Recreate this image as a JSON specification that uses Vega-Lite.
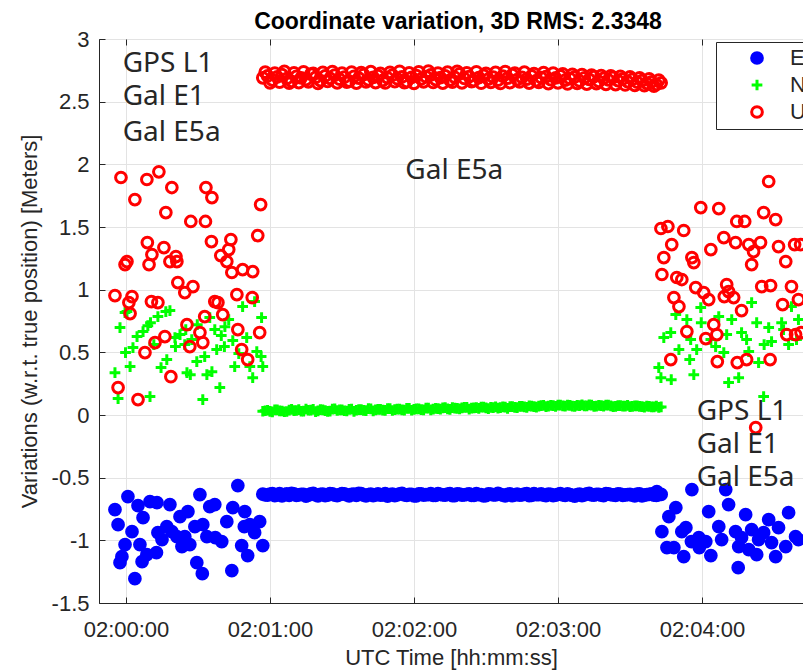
{
"$schema": "https://vega.github.io/schema/vega-lite/v6.json",
"width": 704, "height": 564,
"autosize": "none",
"padding": {"left": 99, "top": 39, "right": 0, "bottom": 69},
"background": "white",
"title": {"text": "Coordinate variation, 3D RMS: 2.3348", "font": "Liberation Sans", "fontSize": 23, "fontWeight": "bold", "color": "#000000", "offset": -6, "anchor": "middle", "dx": 7},
"config": {
  "view": {"stroke": "#262626", "strokeWidth": 1},
  "legend": {"orient": "none", "legendX": 617, "legendY": 3, "padding": 5, "rowPadding": 3, "symbolSize": 115, "symbolStrokeWidth": 3, "labelFontSize": 22, "labelFont": "Liberation Sans", "labelColor": "#262626", "labelOffset": 22, "symbolOffset": 25, "strokeColor": "#262626", "fillColor": "white", "cornerRadius": 0}
},
"resolve": {"axis": {"x": "independent"}},
"layer": [
{
  "data": {"values": [
{"t":7257000,"East":-0.632,"North":0.030,"Up":2.690},{"t":7259000,"East":-0.640,"North":0.038,"Up":2.705},{"t":7261000,"East":-0.628,"North":0.025,"Up":2.672},{"t":7263000,"East":-0.637,"North":0.041,"Up":2.698},
{"t":7265000,"East":-0.645,"North":0.032,"Up":2.715},{"t":7267000,"East":-0.630,"North":0.028,"Up":2.684},{"t":7269000,"East":-0.626,"North":0.044,"Up":2.662},{"t":7271000,"East":-0.641,"North":0.036,"Up":2.701},
{"t":7273000,"East":-0.634,"North":0.030,"Up":2.690},{"t":7275000,"East":-0.648,"North":0.047,"Up":2.676},{"t":7277000,"East":-0.629,"North":0.039,"Up":2.720},{"t":7279000,"East":-0.638,"North":0.027,"Up":2.693},
{"t":7281000,"East":-0.633,"North":0.043,"Up":2.668},{"t":7283000,"East":-0.644,"North":0.035,"Up":2.705},{"t":7285000,"East":-0.627,"North":0.031,"Up":2.686},{"t":7287000,"East":-0.639,"North":0.048,"Up":2.712},
{"t":7289000,"East":-0.636,"North":0.040,"Up":2.679},{"t":7291000,"East":-0.630,"North":0.034,"Up":2.695},{"t":7293000,"East":-0.646,"North":0.045,"Up":2.664},{"t":7295000,"East":-0.632,"North":0.029,"Up":2.702},
{"t":7297000,"East":-0.625,"North":0.042,"Up":2.688},{"t":7299000,"East":-0.640,"North":0.037,"Up":2.716},{"t":7301000,"East":-0.635,"North":0.050,"Up":2.674},{"t":7303000,"East":-0.643,"North":0.033,"Up":2.693},
{"t":7305000,"East":-0.629,"North":0.044,"Up":2.707},{"t":7307000,"East":-0.637,"North":0.039,"Up":2.669},{"t":7309000,"East":-0.648,"North":0.051,"Up":2.690},{"t":7311000,"East":-0.631,"North":0.036,"Up":2.711},
{"t":7313000,"East":-0.638,"North":0.046,"Up":2.683},{"t":7315000,"East":-0.626,"North":0.041,"Up":2.697},{"t":7317000,"East":-0.641,"North":0.053,"Up":2.660},{"t":7319000,"East":-0.634,"North":0.038,"Up":2.694},
{"t":7321000,"East":-0.645,"North":0.049,"Up":2.708},{"t":7323000,"East":-0.630,"North":0.043,"Up":2.681},{"t":7325000,"East":-0.636,"North":0.055,"Up":2.699},{"t":7327000,"East":-0.628,"North":0.040,"Up":2.713},
{"t":7329000,"East":-0.642,"North":0.052,"Up":2.676},{"t":7331000,"East":-0.633,"North":0.046,"Up":2.691},{"t":7333000,"East":-0.639,"North":0.058,"Up":2.705},{"t":7335000,"East":-0.627,"North":0.044,"Up":2.672},
{"t":7337000,"East":-0.644,"North":0.054,"Up":2.694},{"t":7339000,"East":-0.632,"North":0.049,"Up":2.722},{"t":7341000,"East":-0.638,"North":0.060,"Up":2.685},{"t":7343000,"East":-0.629,"North":0.047,"Up":2.700},
{"t":7345000,"East":-0.641,"North":0.057,"Up":2.667},{"t":7347000,"East":-0.635,"North":0.052,"Up":2.692},{"t":7349000,"East":-0.646,"North":0.062,"Up":2.709},{"t":7351000,"East":-0.630,"North":0.050,"Up":2.680},
{"t":7353000,"East":-0.637,"North":0.059,"Up":2.696},{"t":7355000,"East":-0.625,"North":0.055,"Up":2.671},{"t":7357000,"East":-0.640,"North":0.064,"Up":2.703},{"t":7359000,"East":-0.634,"North":0.053,"Up":2.688},
{"t":7361000,"East":-0.643,"North":0.066,"Up":2.715},{"t":7363000,"East":-0.631,"North":0.058,"Up":2.676},{"t":7365000,"East":-0.638,"North":0.068,"Up":2.694},{"t":7367000,"East":-0.627,"North":0.060,"Up":2.680},
{"t":7369000,"East":-0.642,"North":0.071,"Up":2.705},{"t":7371000,"East":-0.636,"North":0.062,"Up":2.668},{"t":7373000,"East":-0.630,"North":0.074,"Up":2.692},{"t":7375000,"East":-0.644,"North":0.066,"Up":2.700},
{"t":7377000,"East":-0.633,"North":0.076,"Up":2.675},{"t":7379000,"East":-0.639,"North":0.069,"Up":2.689},{"t":7381000,"East":-0.628,"North":0.079,"Up":2.706},{"t":7383000,"East":-0.641,"North":0.070,"Up":2.671},
{"t":7385000,"East":-0.635,"North":0.077,"Up":2.684},{"t":7387000,"East":-0.647,"North":0.068,"Up":2.698},{"t":7389000,"East":-0.631,"North":0.075,"Up":2.665},{"t":7391000,"East":-0.637,"North":0.072,"Up":2.690},
{"t":7393000,"East":-0.626,"North":0.080,"Up":2.678},{"t":7395000,"East":-0.640,"North":0.069,"Up":2.699},{"t":7397000,"East":-0.634,"North":0.076,"Up":2.662},{"t":7399000,"East":-0.643,"North":0.071,"Up":2.686},
{"t":7401000,"East":-0.630,"North":0.078,"Up":2.673},{"t":7403000,"East":-0.638,"North":0.067,"Up":2.694},{"t":7405000,"East":-0.629,"North":0.074,"Up":2.668},{"t":7407000,"East":-0.642,"North":0.070,"Up":2.681},
{"t":7409000,"East":-0.635,"North":0.076,"Up":2.660},{"t":7411000,"East":-0.640,"North":0.068,"Up":2.677},{"t":7413000,"East":-0.632,"North":0.073,"Up":2.655},{"t":7415000,"East":-0.645,"North":0.066,"Up":2.668},
{"t":7417000,"East":-0.636,"North":0.071,"Up":2.646},{"t":7419000,"East":-0.629,"North":0.065,"Up":2.658},{"t":7421000,"East":-0.641,"North":0.070,"Up":2.637},{"t":7423000,"East":-0.634,"North":0.064,"Up":2.650},
{"t":7258000,"East":-0.638,"North":0.034,"Up":2.735},{"t":7260000,"East":-0.631,"North":0.029,"Up":2.650},{"t":7262000,"East":-0.644,"North":0.040,"Up":2.728},{"t":7264000,"East":-0.627,"North":0.033,"Up":2.655},
{"t":7266000,"East":-0.636,"North":0.026,"Up":2.741},{"t":7268000,"East":-0.642,"North":0.039,"Up":2.647},{"t":7270000,"East":-0.629,"North":0.035,"Up":2.730},{"t":7272000,"East":-0.637,"North":0.042,"Up":2.652},
{"t":7274000,"East":-0.633,"North":0.031,"Up":2.738},{"t":7276000,"East":-0.640,"North":0.038,"Up":2.658},{"t":7278000,"East":-0.626,"North":0.044,"Up":2.725},{"t":7280000,"East":-0.645,"North":0.033,"Up":2.645},
{"t":7282000,"East":-0.632,"North":0.040,"Up":2.733},{"t":7284000,"East":-0.639,"North":0.029,"Up":2.661},{"t":7286000,"East":-0.630,"North":0.046,"Up":2.740},{"t":7288000,"East":-0.643,"North":0.036,"Up":2.650},
{"t":7290000,"East":-0.628,"North":0.041,"Up":2.727},{"t":7292000,"East":-0.638,"North":0.032,"Up":2.655},{"t":7294000,"East":-0.634,"North":0.047,"Up":2.736},{"t":7296000,"East":-0.641,"North":0.038,"Up":2.648},
{"t":7298000,"East":-0.627,"North":0.043,"Up":2.731},{"t":7300000,"East":-0.645,"North":0.035,"Up":2.657},{"t":7302000,"East":-0.631,"North":0.048,"Up":2.739},{"t":7304000,"East":-0.637,"North":0.040,"Up":2.652},
{"t":7306000,"East":-0.640,"North":0.045,"Up":2.726},{"t":7308000,"East":-0.628,"North":0.037,"Up":2.649},{"t":7310000,"East":-0.636,"North":0.050,"Up":2.734},{"t":7312000,"East":-0.643,"North":0.042,"Up":2.660},
{"t":7314000,"East":-0.630,"North":0.047,"Up":2.742},{"t":7316000,"East":-0.638,"North":0.039,"Up":2.651},{"t":7318000,"East":-0.633,"North":0.052,"Up":2.729},{"t":7320000,"East":-0.646,"North":0.044,"Up":2.646},
{"t":7322000,"East":-0.629,"North":0.049,"Up":2.737},{"t":7324000,"East":-0.639,"North":0.041,"Up":2.658},{"t":7326000,"East":-0.635,"North":0.055,"Up":2.744},{"t":7328000,"East":-0.642,"North":0.046,"Up":2.653},
{"t":7330000,"East":-0.627,"North":0.051,"Up":2.728},{"t":7332000,"East":-0.637,"North":0.056,"Up":2.648},{"t":7334000,"East":-0.632,"North":0.049,"Up":2.735},{"t":7336000,"East":-0.644,"North":0.058,"Up":2.655},
{"t":7338000,"East":-0.630,"North":0.052,"Up":2.741},{"t":7340000,"East":-0.639,"North":0.057,"Up":2.650},{"t":7342000,"East":-0.634,"North":0.061,"Up":2.730},{"t":7344000,"East":-0.641,"North":0.054,"Up":2.659},
{"t":7346000,"East":-0.628,"North":0.059,"Up":2.738},{"t":7348000,"East":-0.636,"North":0.063,"Up":2.647},{"t":7350000,"East":-0.643,"North":0.056,"Up":2.726},{"t":7352000,"East":-0.631,"North":0.061,"Up":2.654},
{"t":7354000,"East":-0.638,"North":0.065,"Up":2.733},{"t":7356000,"East":-0.633,"North":0.058,"Up":2.645},{"t":7358000,"East":-0.645,"North":0.063,"Up":2.740},{"t":7360000,"East":-0.629,"North":0.067,"Up":2.652},
{"t":7362000,"East":-0.637,"North":0.061,"Up":2.728},{"t":7364000,"East":-0.640,"North":0.069,"Up":2.657},{"t":7366000,"East":-0.632,"North":0.064,"Up":2.735},{"t":7368000,"East":-0.644,"North":0.072,"Up":2.648},
{"t":7370000,"East":-0.628,"North":0.066,"Up":2.724},{"t":7372000,"East":-0.636,"North":0.071,"Up":2.653},{"t":7374000,"East":-0.639,"North":0.077,"Up":2.731},{"t":7376000,"East":-0.631,"North":0.070,"Up":2.644},
{"t":7378000,"East":-0.643,"North":0.074,"Up":2.727},{"t":7380000,"East":-0.634,"North":0.078,"Up":2.650},{"t":7382000,"East":-0.638,"North":0.073,"Up":2.722},{"t":7384000,"East":-0.629,"North":0.079,"Up":2.641},
{"t":7386000,"East":-0.641,"North":0.071,"Up":2.718},{"t":7388000,"East":-0.635,"North":0.076,"Up":2.646},{"t":7390000,"East":-0.644,"North":0.081,"Up":2.715},{"t":7392000,"East":-0.630,"North":0.073,"Up":2.640},
{"t":7394000,"East":-0.637,"North":0.078,"Up":2.712},{"t":7396000,"East":-0.633,"North":0.070,"Up":2.644},{"t":7398000,"East":-0.640,"North":0.075,"Up":2.708},{"t":7400000,"East":-0.628,"North":0.079,"Up":2.638},
{"t":7402000,"East":-0.636,"North":0.072,"Up":2.705},{"t":7404000,"East":-0.642,"North":0.068,"Up":2.636},{"t":7406000,"East":-0.631,"North":0.075,"Up":2.702},{"t":7408000,"East":-0.638,"North":0.070,"Up":2.633},
{"t":7410000,"East":-0.634,"North":0.066,"Up":2.697},{"t":7412000,"East":-0.645,"North":0.072,"Up":2.630},{"t":7414000,"East":-0.630,"North":0.068,"Up":2.690},{"t":7416000,"East":-0.639,"North":0.063,"Up":2.627},
{"t":7418000,"East":-0.633,"North":0.069,"Up":2.682},{"t":7420000,"East":-0.640,"North":0.065,"Up":2.624},{"t":7422000,"East":-0.636,"North":0.061,"Up":2.672}
  ]},
  "transform": [{"fold": ["East", "North", "Up"], "as": ["s", "v"]}],
  "mark": {"type": "point", "strokeWidth": 3, "size": 115, "opacity": 1},
  "encoding": {
    "x": {"field": "t", "type": "temporal", "scale": {"type": "utc", "domain": [7188750, 7482100]},
      "axis": {"values": [7200000, 7260000, 7320000, 7380000, 7440000], "labelExpr": "utcFormat(datum.value, '%H:%M:%S')", "labelFont": "Liberation Sans", "labelFontSize": 22, "labelColor": "#262626", "labelPadding": 22, "tickSize": -6, "tickColor": "#262626", "domainColor": "#262626", "grid": true, "gridColor": "#e3e3e3", "labelFlush": false, "labelOverlap": false, "title": "UTC Time [hh:mm:ss]", "titleFont": "Liberation Sans", "titleFontSize": 22, "titleFontWeight": "normal", "titleColor": "#262626", "titlePadding": 7}},
    "y": {"field": "v", "type": "quantitative", "scale": {"domain": [-1.5, 3], "nice": false, "zero": false},
      "axis": {"values": [-1.5, -1, -0.5, 0, 0.5, 1, 1.5, 2, 2.5, 3], "labelExpr": "'' + datum.value", "labelFont": "Liberation Sans", "labelFontSize": 22, "labelColor": "#262626", "labelPadding": 16, "tickSize": -6, "tickColor": "#262626", "domainColor": "#262626", "grid": true, "gridColor": "#e3e3e3", "labelFlush": false, "labelOverlap": false, "title": "Variations (w.r.t. true position) [Meters]", "titleFont": "Liberation Sans", "titleFontSize": 22, "titleFontWeight": "normal", "titleColor": "#262626", "titlePadding": 10}},
    "stroke": {"field": "s", "type": "nominal", "title": null, "scale": {"domain": ["East", "North", "Up"], "range": ["#0000ff", "#00ff00", "#ff0000"]}},
    "fill": {"field": "s", "type": "nominal", "title": null, "scale": {"domain": ["East", "North", "Up"], "range": ["#0000ff", "transparent", "transparent"]}},
    "shape": {"field": "s", "type": "nominal", "title": null, "scale": {"domain": ["East", "North", "Up"], "range": ["circle", "M-1,0H1M0,-1V1", "circle"]}}
  }
},
{
  "data": {"values": [
{"t":7200800,"s":"East","v":-0.651},{"t":7210000,"s":"East","v":-0.691},{"t":7212900,"s":"East","v":-0.699},{"t":7205000,"s":"East","v":-0.723},{"t":7195400,"s":"East","v":-0.755},{"t":7218300,"s":"East","v":-0.715},{"t":7230800,"s":"East","v":-0.635},{"t":7246600,"s":"East","v":-0.563},{"t":7234900,"s":"East","v":-0.731},{"t":7237000,"s":"East","v":-0.715},{"t":7244500,"s":"East","v":-0.739},{"t":7249500,"s":"East","v":-0.771},
{"t":7196700,"s":"East","v":-0.875},{"t":7207100,"s":"East","v":-0.819},{"t":7225800,"s":"East","v":-0.771},{"t":7222500,"s":"East","v":-0.811},{"t":7202500,"s":"East","v":-0.931},{"t":7213300,"s":"East","v":-0.939},{"t":7217000,"s":"East","v":-0.891},{"t":7219100,"s":"East","v":-0.931},{"t":7228700,"s":"East","v":-0.891},{"t":7232000,"s":"East","v":-0.875},{"t":7242000,"s":"East","v":-0.851},{"t":7249300,"s":"East","v":-0.891},
{"t":7251600,"s":"East","v":-0.875},{"t":7255700,"s":"East","v":-0.851},{"t":7253600,"s":"East","v":-0.939},{"t":7215000,"s":"East","v":-0.994},{"t":7221200,"s":"East","v":-0.971},{"t":7224500,"s":"East","v":-0.971},{"t":7233700,"s":"East","v":-0.971},{"t":7237200,"s":"East","v":-0.979},{"t":7239900,"s":"East","v":-1.010},{"t":7226600,"s":"East","v":-1.034},{"t":7223300,"s":"East","v":-1.050},{"t":7199600,"s":"East","v":-1.034},
{"t":7205800,"s":"East","v":-1.034},{"t":7248200,"s":"East","v":-1.042},{"t":7257000,"s":"East","v":-1.042},{"t":7212700,"s":"East","v":-1.098},{"t":7208700,"s":"East","v":-1.114},{"t":7198300,"s":"East","v":-1.130},{"t":7197500,"s":"East","v":-1.178},{"t":7206700,"s":"East","v":-1.170},{"t":7229500,"s":"East","v":-1.178},{"t":7250700,"s":"East","v":-1.122},{"t":7244100,"s":"East","v":-1.242},{"t":7231800,"s":"East","v":-1.266},{"t":7203700,"s":"East","v":-1.306},
{"t":7421200,"s":"East","v":-0.611},{"t":7435800,"s":"East","v":-0.595},{"t":7449900,"s":"East","v":-0.595},{"t":7429100,"s":"East","v":-0.739},{"t":7442800,"s":"East","v":-0.771},{"t":7451100,"s":"East","v":-0.715},{"t":7458200,"s":"East","v":-0.795},{"t":7467800,"s":"East","v":-0.835},{"t":7476100,"s":"East","v":-0.779},{"t":7426200,"s":"East","v":-0.811},{"t":7423300,"s":"East","v":-0.931},{"t":7433300,"s":"East","v":-0.899},
{"t":7431600,"s":"East","v":-0.931},{"t":7438700,"s":"East","v":-0.979},{"t":7447000,"s":"East","v":-0.891},{"t":7454000,"s":"East","v":-0.931},{"t":7460700,"s":"East","v":-0.915},{"t":7465700,"s":"East","v":-0.939},{"t":7471900,"s":"East","v":-0.899},{"t":7479000,"s":"East","v":-0.971},{"t":7435600,"s":"East","v":-1.010},{"t":7441600,"s":"East","v":-1.010},{"t":7448200,"s":"East","v":-0.994},{"t":7456500,"s":"East","v":-0.979},
{"t":7463600,"s":"East","v":-0.994},{"t":7469000,"s":"East","v":-1.018},{"t":7474900,"s":"East","v":-1.050},{"t":7425400,"s":"East","v":-1.058},{"t":7428300,"s":"East","v":-1.058},{"t":7438900,"s":"East","v":-1.058},{"t":7455300,"s":"East","v":-1.050},{"t":7459500,"s":"East","v":-1.074},{"t":7432400,"s":"East","v":-1.130},{"t":7443700,"s":"East","v":-1.122},{"t":7462800,"s":"East","v":-1.114},{"t":7470700,"s":"East","v":-1.130},{"t":7455100,"s":"East","v":-1.218},{"t":7480200,"s":"East","v":-0.994},
{"t":7199600,"s":"North","v":0.817},{"t":7218300,"s":"North","v":0.833},{"t":7213300,"s":"North","v":0.785},{"t":7197500,"s":"North","v":0.698},{"t":7207100,"s":"North","v":0.666},{"t":7204600,"s":"North","v":0.626},{"t":7220400,"s":"North","v":0.618},{"t":7222500,"s":"North","v":0.642},{"t":7237000,"s":"North","v":0.682},{"t":7241200,"s":"North","v":0.705},{"t":7256500,"s":"North","v":0.777},{"t":7248600,"s":"North","v":0.865},
{"t":7199800,"s":"North","v":0.498},{"t":7201700,"s":"North","v":0.386},{"t":7195400,"s":"North","v":0.338},{"t":7217000,"s":"North","v":0.442},{"t":7214600,"s":"North","v":0.378},{"t":7225400,"s":"North","v":0.338},{"t":7229500,"s":"North","v":0.426},{"t":7233700,"s":"North","v":0.322},{"t":7235800,"s":"North","v":0.346},{"t":7245300,"s":"North","v":0.386},{"t":7251600,"s":"North","v":0.386},{"t":7257000,"s":"North","v":0.386},
{"t":7252800,"s":"North","v":0.298},{"t":7239100,"s":"North","v":0.219},{"t":7232000,"s":"North","v":0.123},{"t":7210000,"s":"North","v":0.147},{"t":7196700,"s":"North","v":0.131},{"t":7256300,"s":"North","v":0.466},{"t":7237800,"s":"North","v":0.522},{"t":7241000,"s":"North","v":0.546},{"t":7209100,"s":"North","v":0.713},{"t":7227400,"s":"North","v":0.602},{"t":7244500,"s":"North","v":0.594},{"t":7253600,"s":"North","v":0.905},{"t":7234900,"s":"North","v":0.777},{"t":7224500,"s":"North","v":0.562},
{"t":7200400,"s":"North","v":0.825},{"t":7210200,"s":"North","v":0.737},{"t":7216600,"s":"North","v":0.825},{"t":7224900,"s":"North","v":0.682},{"t":7229700,"s":"North","v":0.721},{"t":7242800,"s":"North","v":0.761},{"t":7250300,"s":"North","v":0.618},{"t":7202900,"s":"North","v":0.538},{"t":7211600,"s":"North","v":0.562},{"t":7220600,"s":"North","v":0.546},{"t":7232800,"s":"North","v":0.466},{"t":7247000,"s":"North","v":0.490},{"t":7254500,"s":"North","v":0.506},{"t":7226800,"s":"North","v":0.322},{"t":7239700,"s":"North","v":0.634},
{"t":7429100,"s":"North","v":0.801},{"t":7439500,"s":"North","v":0.857},{"t":7460700,"s":"North","v":0.897},{"t":7477300,"s":"North","v":0.865},{"t":7424100,"s":"North","v":0.618},{"t":7427000,"s":"North","v":0.658},{"t":7435300,"s":"North","v":0.602},{"t":7439700,"s":"North","v":0.737},{"t":7447000,"s":"North","v":0.785},{"t":7452400,"s":"North","v":0.761},{"t":7456500,"s":"North","v":0.658},{"t":7462800,"s":"North","v":0.737},
{"t":7467800,"s":"North","v":0.698},{"t":7473200,"s":"North","v":0.737},{"t":7430400,"s":"North","v":0.522},{"t":7437800,"s":"North","v":0.522},{"t":7445700,"s":"North","v":0.546},{"t":7449100,"s":"North","v":0.498},{"t":7459500,"s":"North","v":0.506},{"t":7463600,"s":"North","v":0.418},{"t":7469000,"s":"North","v":0.586},{"t":7476100,"s":"North","v":0.562},{"t":7422900,"s":"North","v":0.298},{"t":7427200,"s":"North","v":0.282},
{"t":7436600,"s":"North","v":0.322},{"t":7451100,"s":"North","v":0.259},{"t":7455300,"s":"North","v":0.298},{"t":7465700,"s":"North","v":0.147},{"t":7480200,"s":"North","v":0.761},{"t":7479400,"s":"North","v":0.602},
{"t":7433700,"s":"North","v":0.761},{"t":7443700,"s":"North","v":0.602},{"t":7450300,"s":"North","v":0.642},{"t":7458600,"s":"North","v":0.602},{"t":7465900,"s":"North","v":0.562},{"t":7474000,"s":"North","v":0.682},{"t":7434900,"s":"North","v":0.442},{"t":7422000,"s":"North","v":0.378},
{"t":7197900,"s":"Up","v":1.895},{"t":7203700,"s":"Up","v":1.719},{"t":7208700,"s":"Up","v":1.879},{"t":7213700,"s":"Up","v":1.940},{"t":7219100,"s":"Up","v":1.815},{"t":7233300,"s":"Up","v":1.815},{"t":7235800,"s":"Up","v":1.735},{"t":7216600,"s":"Up","v":1.615},{"t":7227000,"s":"Up","v":1.544},{"t":7233100,"s":"Up","v":1.544},{"t":7256100,"s":"Up","v":1.679},{"t":7208900,"s":"Up","v":1.376},
{"t":7210800,"s":"Up","v":1.280},{"t":7215800,"s":"Up","v":1.336},{"t":7220800,"s":"Up","v":1.264},{"t":7235600,"s":"Up","v":1.384},{"t":7239500,"s":"Up","v":1.272},{"t":7243700,"s":"Up","v":1.400},{"t":7242800,"s":"Up","v":1.320},{"t":7254900,"s":"Up","v":1.432},{"t":7200400,"s":"Up","v":1.224},{"t":7199600,"s":"Up","v":1.200},{"t":7209600,"s":"Up","v":1.200},{"t":7218300,"s":"Up","v":1.224},
{"t":7221200,"s":"Up","v":1.224},{"t":7242000,"s":"Up","v":1.224},{"t":7244100,"s":"Up","v":1.137},{"t":7248600,"s":"Up","v":1.160},{"t":7252800,"s":"Up","v":1.144},{"t":7221600,"s":"Up","v":1.057},{"t":7224500,"s":"Up","v":0.977},{"t":7227900,"s":"Up","v":1.025},{"t":7195400,"s":"Up","v":0.953},{"t":7202500,"s":"Up","v":0.945},{"t":7201200,"s":"Up","v":0.897},{"t":7201700,"s":"Up","v":0.809},
{"t":7210600,"s":"Up","v":0.905},{"t":7213300,"s":"Up","v":0.897},{"t":7237000,"s":"Up","v":0.905},{"t":7238300,"s":"Up","v":0.897},{"t":7246200,"s":"Up","v":0.961},{"t":7252600,"s":"Up","v":0.937},{"t":7232800,"s":"Up","v":0.785},{"t":7240300,"s":"Up","v":0.801},{"t":7246600,"s":"Up","v":0.682},{"t":7255700,"s":"Up","v":0.658},{"t":7216200,"s":"Up","v":0.626},{"t":7212100,"s":"Up","v":0.578},
{"t":7207900,"s":"Up","v":0.498},{"t":7225400,"s":"Up","v":0.721},{"t":7230800,"s":"Up","v":0.658},{"t":7232000,"s":"Up","v":0.578},{"t":7226600,"s":"Up","v":0.546},{"t":7248200,"s":"Up","v":0.522},{"t":7250700,"s":"Up","v":0.442},{"t":7218700,"s":"Up","v":0.306},{"t":7196700,"s":"Up","v":0.219},{"t":7205000,"s":"Up","v":0.123},
{"t":7467800,"s":"Up","v":1.863},{"t":7439500,"s":"Up","v":1.655},{"t":7447000,"s":"Up","v":1.647},{"t":7454500,"s":"Up","v":1.544},{"t":7457800,"s":"Up","v":1.544},{"t":7465700,"s":"Up","v":1.615},{"t":7470700,"s":"Up","v":1.559},{"t":7422900,"s":"Up","v":1.488},{"t":7425800,"s":"Up","v":1.504},{"t":7432400,"s":"Up","v":1.472},{"t":7427400,"s":"Up","v":1.360},{"t":7424100,"s":"Up","v":1.256},
{"t":7435800,"s":"Up","v":1.256},{"t":7436600,"s":"Up","v":1.216},{"t":7443700,"s":"Up","v":1.320},{"t":7449100,"s":"Up","v":1.416},{"t":7454000,"s":"Up","v":1.376},{"t":7459500,"s":"Up","v":1.360},{"t":7461500,"s":"Up","v":1.304},{"t":7464400,"s":"Up","v":1.376},{"t":7471900,"s":"Up","v":1.344},{"t":7474900,"s":"Up","v":1.224},{"t":7478600,"s":"Up","v":1.360},{"t":7460700,"s":"Up","v":1.200},
{"t":7423300,"s":"Up","v":1.121},{"t":7429500,"s":"Up","v":1.097},{"t":7431600,"s":"Up","v":1.081},{"t":7437400,"s":"Up","v":1.017},{"t":7440700,"s":"Up","v":0.977},{"t":7450300,"s":"Up","v":1.041},{"t":7451100,"s":"Up","v":0.985},{"t":7449300,"s":"Up","v":0.945},{"t":7453200,"s":"Up","v":0.937},{"t":7464900,"s":"Up","v":1.025},{"t":7468600,"s":"Up","v":1.033},{"t":7477300,"s":"Up","v":1.025},
{"t":7428300,"s":"Up","v":0.937},{"t":7430400,"s":"Up","v":0.865},{"t":7442800,"s":"Up","v":0.921},{"t":7456500,"s":"Up","v":0.833},{"t":7473600,"s":"Up","v":0.881},{"t":7444900,"s":"Up","v":0.721},{"t":7433700,"s":"Up","v":0.666},{"t":7441600,"s":"Up","v":0.610},{"t":7446200,"s":"Up","v":0.642},{"t":7475300,"s":"Up","v":0.642},{"t":7479000,"s":"Up","v":0.642},{"t":7427000,"s":"Up","v":0.442},
{"t":7446400,"s":"Up","v":0.426},{"t":7454700,"s":"Up","v":0.418},{"t":7458600,"s":"Up","v":0.442},{"t":7468400,"s":"Up","v":0.442},{"t":7462400,"s":"Up","v":-0.100},{"t":7481100,"s":"Up","v":1.360},{"t":7480200,"s":"Up","v":0.921},{"t":7481300,"s":"Up","v":0.658}
  ]},
  "mark": {"type": "point", "strokeWidth": 3, "size": 115, "opacity": 1},
  "encoding": {
    "x": {"field": "t", "type": "temporal", "axis": null},
    "y": {"field": "v", "type": "quantitative"},
    "stroke": {"field": "s", "type": "nominal", "title": null},
    "fill": {"field": "s", "type": "nominal", "title": null},
    "shape": {"field": "s", "type": "nominal", "title": null}
  }
},
{
  "data": {"values": [
    {"t": 7198630, "v": 2.733, "label": "GPS L1"},
    {"t": 7198630, "v": 2.470, "label": "Gal E1"},
    {"t": 7198630, "v": 2.190, "label": "Gal E5a"},
    {"t": 7316400, "v": 1.879, "label": "Gal E5a"},
    {"t": 7437800, "v": -0.037, "label": "GPS L1"},
    {"t": 7437800, "v": -0.302, "label": "Gal E1"},
    {"t": 7437800, "v": -0.569, "label": "Gal E5a"}
  ]},
  "mark": {"type": "text", "align": "left", "baseline": "alphabetic", "font": "Noto Sans", "fontSize": 28, "color": "#262626"},
  "encoding": {
    "x": {"field": "t", "type": "temporal", "axis": {"orient": "top", "values": [7200000, 7260000, 7320000, 7380000, 7440000], "labels": false, "title": null, "grid": false, "domain": false, "tickSize": -6, "tickColor": "#262626"}},
    "y": {"field": "v", "type": "quantitative"},
    "text": {"field": "label", "type": "nominal"}
  }
}
]
}
